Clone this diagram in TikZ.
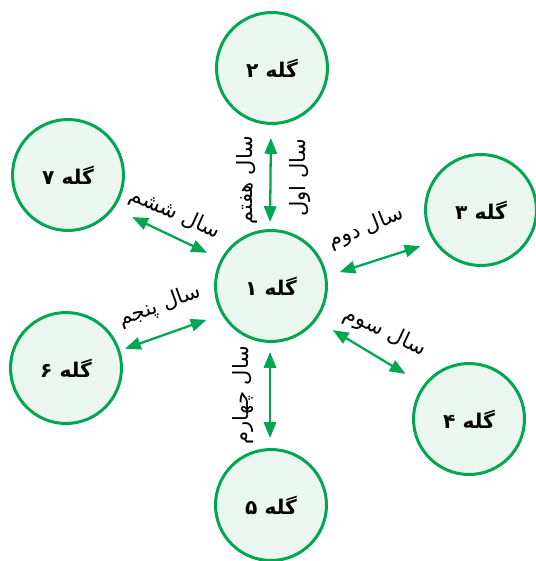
\documentclass[tikz,border=0pt]{standalone}
\usepackage{fontspec}
\TeXXeTstate=1
\newfontfamily\arabicfont[Script=Arabic]{DejaVu Sans}
\usetikzlibrary{arrows.meta}
\definecolor{herdgreen}{HTML}{00A651}
\definecolor{herdfill}{HTML}{EAF6EE}
\tikzset{
  herd/.style={circle, draw=herdgreen, fill=herdfill, line width=1.7pt,
    minimum size=2.22cm, inner sep=0pt,
    font=\arabicfont\bfseries\fontsize{11.5pt}{14pt}\selectfont},
  yearlabel/.style={inner sep=1pt, font=\arabicfont\fontsize{12pt}{14pt}\selectfont},
  link/.style={draw=herdgreen, line width=1.3pt,
    {Triangle[length=9pt,width=7pt]}-{Triangle[length=9pt,width=7pt]}},
}
\newcommand{\rtl}[1]{\beginR #1\endR}
\begin{document}
\begin{tikzpicture}[x=0.02cm,y=-0.02cm]
\useasboundingbox (0,0) rectangle (536,561);

% herds
\node[herd] (g1) at (271,286) {\rtl{گله ۱}};
\node[herd] (g2) at (272,68)  {\rtl{گله ۲}};
\node[herd] (g3) at (481,210) {\rtl{گله ۳}};
\node[herd] (g4) at (469,419) {\rtl{گله ۴}};
\node[herd] (g5) at (271,505) {\rtl{گله ۵}};
\node[herd] (g6) at (66,368)  {\rtl{گله ۶}};
\node[herd] (g7) at (68,175)  {\rtl{گله ۷}};

% yearly moves between herds
\draw[link, shorten <=13*0.02cm, shorten >=7*0.02cm] (g2.-91.6) -- (g1.91);
\draw[link, shorten <=13*0.02cm, shorten >=14*0.02cm] (g1.10.7) -- (g3.214);
\draw[link, shorten <=19*0.02cm, shorten >=21*0.02cm] (g1.-37) -- (g4.143);
\draw[link, shorten <=9*0.02cm, shorten >=10*0.02cm] (g1.-91) -- (g5.91);
\draw[link, shorten <=16*0.02cm, shorten >=5*0.02cm] (g1.210.4) -- (g6.18.7);
\draw[link, shorten <=15*0.02cm, shorten >=20*0.02cm] (g1.152.7) -- (g7.-36);

% labels
\node[yearlabel, rotate=90]  (y7) at (247,180) {\rtl{سال هفتم}};
\node[yearlabel, rotate=90]  (y1) at (300,178) {\rtl{سال اول}};
\node[yearlabel, rotate=22]  (y2) at (366,228) {\rtl{سال دوم}};
\node[yearlabel, rotate=-25] (y3) at (385,332) {\rtl{سال سوم}};
\node[yearlabel, rotate=90]  (y4) at (243,395) {\rtl{سال چهارم}};
\node[yearlabel, rotate=20]  (y5) at (160,306) {\rtl{سال پنجم}};
\node[yearlabel, rotate=-24] (y6) at (175,214) {\rtl{سال ششم}};
\end{tikzpicture}
\end{document}
